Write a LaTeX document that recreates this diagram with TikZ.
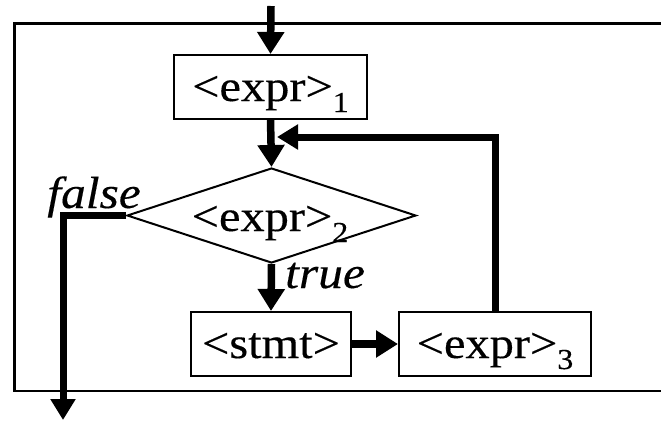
\documentclass[tikz,border=0pt]{standalone}
\usepackage{fontspec}
\setmainfont{Liberation Serif}[FakeStretch=1.1,FakeBold=0.3]
\usetikzlibrary{arrows.meta,shapes.geometric}
\newcommand\mysub[1]{\raisebox{-11pt}{\fontsize{29}{30}\selectfont #1}}
\begin{document}
\begin{tikzpicture}[x=1pt,y=-1pt,
  txt/.style={font=\fontsize{44}{48}\selectfont},
  box/.style={draw,line width=2pt,minimum width=#1,minimum height=64pt,
    inner sep=0pt,text height=46pt,text depth=18pt,txt},
  flow/.style={line width=7.5pt,-{Triangle[length=22pt,width=26pt]}},
  lbl/.style={font=\fontsize{45}{48}\selectfont\itshape,inner sep=0pt}]
\useasboundingbox (0,0) rectangle (661,421);
% outer frame (open on the right)
\draw[line width=2.5pt] (662,23.5) -- (14.5,23.5) -- (14.5,391) -- (662,391);
% nodes
\coordinate (start) at (271,6);
\node[box=193pt] (e1) at (270.5,87) {<expr>\mysub{1}};
\node[draw,line width=2pt,diamond,aspect=3.04,minimum width=289pt,minimum height=95pt,inner sep=0pt] (e2) at (271.5,215.5) {};
\node[txt,anchor=base,inner sep=0pt] (e2t) at (270,231) {<expr>\mysub{2}};
\node[box=160pt] (st) at (271,344) {<stmt>};
\node[box=192pt] (e3) at (495,344) {<expr>\mysub{3}};
\coordinate (exit) at (63,420);
\coordinate (loopc) at (495,137);
\coordinate (merge) at (277,137);
\node[lbl,anchor=base east] (fl) at (141,208) {false};
\node[lbl,anchor=base west] (tr) at (285,288) {true};
% connectors
\draw[flow] (start) -- (e1.north);
\draw[flow] (e1.south) -- (e2.north);
\draw[flow] (e2.south) -- (st.north);
\draw[flow] (st.east) -- (e3.west);
\draw[line width=7pt,-{Triangle[length=21pt,width=24pt]}] (e3.north -| loopc) -- (loopc) -- (merge);
\draw[line width=7pt,-{Triangle[length=21pt,width=24pt]}] (e2.west) -- (e2.west -| exit) -- (exit);
\end{tikzpicture}
\end{document}
